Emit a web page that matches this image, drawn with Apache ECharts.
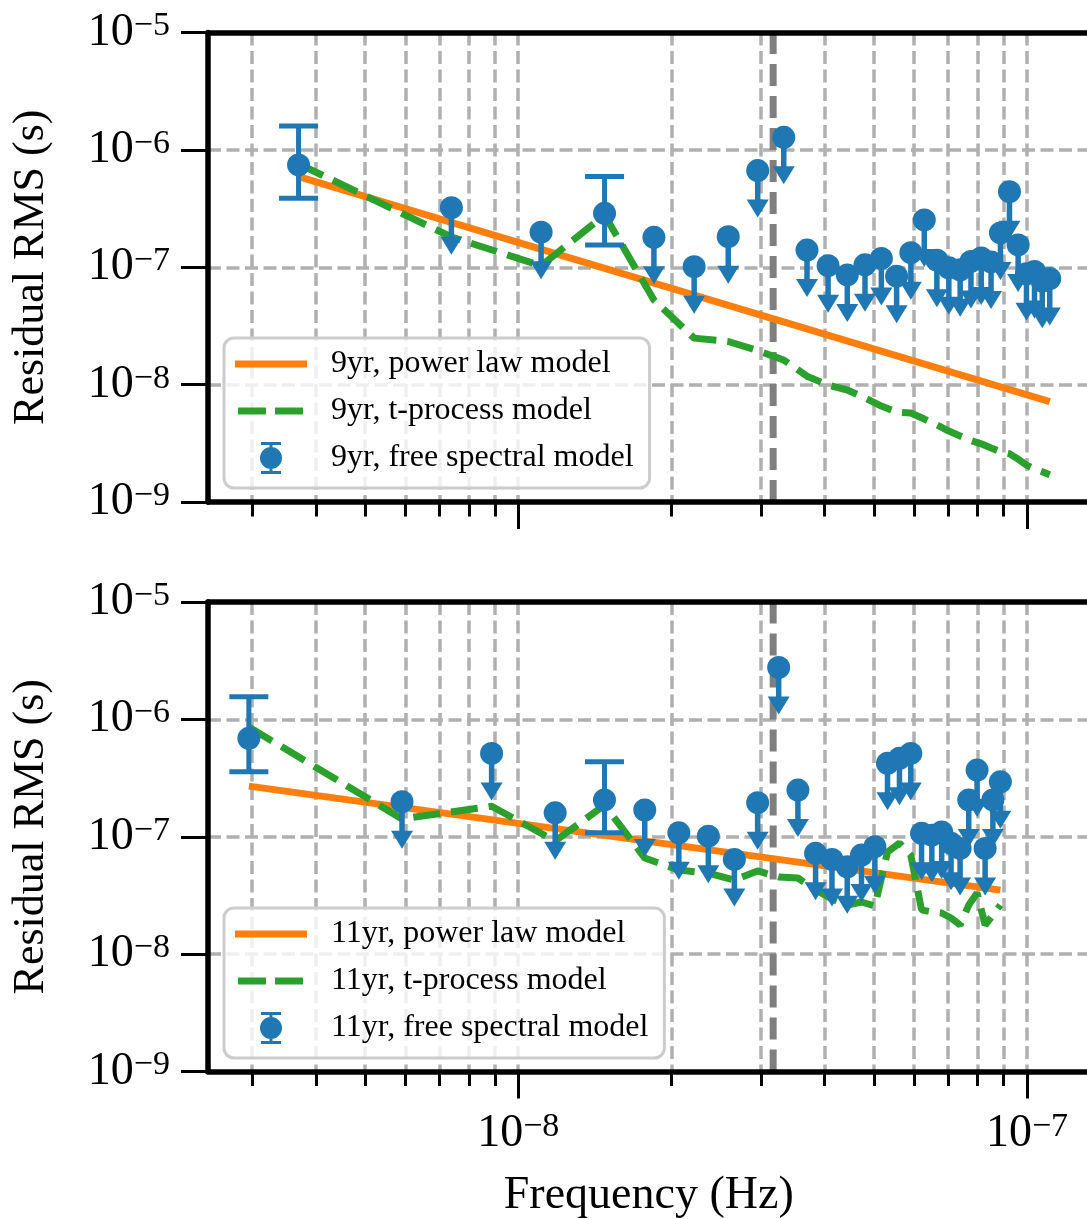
<!DOCTYPE html>
<html>
<head>
<meta charset="utf-8">
<title>Residual RMS</title>
<script src="https://cdn.jsdelivr.net/npm/echarts@6.0.0/dist/echarts.min.js"></script>
<style>
  html, body { margin: 0; padding: 0; background: #fff; }
  #main { width: 1087px; height: 1219px; }
</style>
</head>
<body>
<div id="main"></div>
<script>
// Fourier frequencies (Hz)
const freq9 = [3.70e-9, 7.39e-9, 1.109e-8, 1.478e-8, 1.848e-8, 2.217e-8, 2.587e-8, 2.956e-8, 3.326e-8, 3.695e-8,
  4.065e-8, 4.434e-8, 4.804e-8, 5.173e-8, 5.543e-8, 5.912e-8, 6.282e-8, 6.651e-8, 7.021e-8, 7.390e-8,
  7.760e-8, 8.129e-8, 8.499e-8, 8.868e-8, 9.238e-8, 9.607e-8, 9.977e-8, 1.0346e-7, 1.0716e-7, 1.1085e-7];
const freq11 = [2.955e-9, 5.91e-9, 8.865e-9, 1.182e-8, 1.4775e-8, 1.773e-8, 2.0685e-8, 2.364e-8, 2.6595e-8, 2.955e-8,
  3.2505e-8, 3.546e-8, 3.8415e-8, 4.137e-8, 4.4325e-8, 4.728e-8, 5.0235e-8, 5.319e-8, 5.6145e-8, 5.91e-8,
  6.2055e-8, 6.501e-8, 6.7965e-8, 7.092e-8, 7.3875e-8, 7.683e-8, 7.9785e-8, 8.274e-8, 8.5695e-8, 8.865e-8];

// free spectral model (s)
const free9 = [7.45e-7, 3.22e-7, 1.99e-7, 2.88e-7, 1.80e-7, 1.01e-7, 1.82e-7, 6.67e-7, 1.28e-6, 1.40e-7,
  1.03e-7, 8.6e-8, 1.05e-7, 1.19e-7, 8.4e-8, 1.33e-7, 2.53e-7, 1.15e-7, 9.9e-8, 9.5e-8,
  1.12e-7, 1.2e-7, 1.11e-7, 1.96e-7, 4.4e-7, 1.55e-7, 8.8e-8, 9.2e-8, 7.6e-8, 8.0e-8];
const free11 = [6.89e-7, 1.99e-7, 5.13e-7, 1.60e-7, 2.06e-7, 1.69e-7, 1.08e-7, 1.01e-7, 6.41e-8, 1.95e-7,
  2.77e-6, 2.50e-7, 7.23e-8, 6.41e-8, 5.55e-8, 6.98e-8, 8.22e-8, 4.22e-7, 4.66e-7, 5.13e-7,
  1.07e-7, 1.03e-7, 1.10e-7, 8.79e-8, 7.96e-8, 2.06e-7, 3.70e-7, 7.96e-8, 2.06e-7, 2.94e-7];

// detections with two-sided error bars: [point index, low, high]; the rest are upper limits
const bars9 = [[0, 3.87e-7, 1.60e-6], [3, 1.55e-7, 5.92e-7]];
const bars11 = [[0, 3.58e-7, 1.56e-6], [4, 1.08e-7, 4.35e-7]];

// t-process model (s)
const tproc9 = [7.6e-7, 1.81e-7, 1.03e-7, 2.79e-7, 5.26e-8, 2.49e-8, 2.33e-8, 1.95e-8, 1.62e-8, 1.18e-8,
  9.9e-9, 9.0e-9, 7.7e-9, 6.57e-9, 5.84e-9, 5.73e-9, 5.09e-9, 4.53e-9, 4.02e-9, 3.65e-9,
  3.34e-9, 3.13e-9, 2.88e-9, 2.69e-9, 2.58e-9, 2.32e-9, 2.06e-9, 1.91e-9, 1.81e-9, 1.71e-9];
const tproc11 = [8.6e-7, 1.42e-7, 1.82e-7, 9.2e-8, 1.86e-7, 6.59e-8, 5.20e-8, 4.91e-8, 4.28e-8, 5.11e-8,
  4.54e-8, 4.45e-8, 3.52e-8, 2.95e-8, 2.62e-8, 2.78e-8, 2.57e-8, 7.41e-8, 8.83e-8, 6.98e-8,
  2.38e-8, 2.29e-8, 2.24e-8, 2.03e-8, 1.77e-8, 2.62e-8, 3.31e-8, 1.77e-8, 2.15e-8, 2.62e-8];

// power law model, ends of the straight line
const power9 = [[3.70e-9, 5.92e-7], [1.1085e-7, 7.15e-9]];
const power11 = [[2.955e-9, 2.70e-7], [8.865e-8, 3.51e-8]];

const yearFreq = 3.17e-8; // 1/yr
const xMinorTicks = [3e-9, 4e-9, 5e-9, 6e-9, 7e-9, 8e-9, 9e-9, 2e-8, 3e-8, 4e-8, 5e-8, 6e-8, 7e-8, 8e-8, 9e-8];
const xMajorTicks = [1e-8, 1e-7];
const yTicks = [1e-9, 1e-8, 1e-7, 1e-6, 1e-5];

const FONT = "'Liberation Serif', 'DejaVu Serif', serif";
const BLUE = '#1f77b4', ORANGE = '#ff7f0e', GREEN = '#2ca02c';

const ICON_SOLID = 'path://M0,0H72V7H0Z';
const ICON_DASH = 'path://M0,3h.01v.01h-.01Z M3,0H31V7H3Z M40,0H68V7H40Z M71.99,3h.01v.01h-.01Z';
const ICON_ERR = 'path://M2,0H22V3H2Z M10.5,3H13.5V5H10.5Z M1,16A11,11 0 1,1 23,16A11,11 0 1,1 1,16Z M10.5,27H13.5V29H10.5Z M2,29H22V32H2Z';

function expLabel(v) {
  const e = Math.round(Math.log10(v));
  return '{b|10}{s|' + (e < 0 ? '\u2212' + (-e) : e) + '}';
}
const labelRich = {
  b: { fontFamily: FONT, fontSize: 46, lineHeight: 46, padding: [8, 0, 8, 0], color: '#000' },
  s: { fontFamily: FONT, fontSize: 34, lineHeight: 34, verticalAlign: 'top', color: '#000' }
};
const gridLine = { color: '#b0b0b0', width: 3.5, type: [13, 5.5] };
const spine = { color: '#000', width: 5.5 };
const tickStyle = { color: '#000', width: 3 };

function upperLimit(params, api) {
  const p = api.coord([api.value(0), api.value(1)]);
  return {
    type: 'group',
    children: [
      { type: 'line', shape: { x1: p[0], y1: p[1], x2: p[0], y2: p[1] + 31 }, style: { stroke: BLUE, lineWidth: 5.5 } },
      { type: 'polygon', shape: { points: [[p[0] - 11, p[1] + 29], [p[0] + 11, p[1] + 29], [p[0], p[1] + 47]] }, style: { fill: BLUE } }
    ]
  };
}

function errorBar(params, api) {
  const lo = api.coord([api.value(0), api.value(1)]);
  const hi = api.coord([api.value(0), api.value(2)]);
  const cap = 19.5;
  const st = { stroke: BLUE, lineWidth: 5 };
  return {
    type: 'group',
    children: [
      { type: 'line', shape: { x1: lo[0], y1: lo[1], x2: hi[0], y2: hi[1] }, style: st },
      { type: 'line', shape: { x1: lo[0] - cap, y1: lo[1], x2: lo[0] + cap, y2: lo[1] }, style: st },
      { type: 'line', shape: { x1: hi[0] - cap, y1: hi[1], x2: hi[0] + cap, y2: hi[1] }, style: st }
    ]
  };
}

const panels = [
  { label: '9yr', freq: freq9, free: free9, bars: bars9, tproc: tproc9, power: power9, top: 32.5, legendTop: 338 },
  { label: '11yr', freq: freq11, free: free11, bars: bars11, tproc: tproc11, power: power11, top: 602, legendTop: 908 }
];

const option = {
  backgroundColor: '#fff',
  animation: false,
  grid: [], xAxis: [], yAxis: [], legend: [], series: []
};

panels.forEach((pn, p) => {
  option.grid.push({ left: 208, top: pn.top, width: 881.5, height: 469.5, containLabel: false, outerBoundsMode: 'none' });

  const xRange = { type: 'log', min: 2.456e-9, max: 1.327e-7, gridIndex: p };
  const last = p === panels.length - 1;
  option.xAxis.push(
    {
      ...xRange, position: 'bottom', z: 0,
      axisLine: { show: false },
      axisTick: { show: true, customValues: xMinorTicks.concat(xMajorTicks), length: 14.5, lineStyle: tickStyle },
      axisLabel: { show: false },
      splitLine: { show: true, lineStyle: gridLine }
    },
    {
      ...xRange, position: 'bottom', z: 3,
      axisLine: { show: true, onZero: false, lineStyle: spine },
      axisTick: { show: true, customValues: xMajorTicks, length: 27, lineStyle: tickStyle },
      axisLabel: { show: last, customValues: xMajorTicks, formatter: expLabel, margin: 39, rich: labelRich },
      splitLine: { show: false },
      name: last ? 'Frequency (Hz)' : '',
      nameLocation: 'middle', nameGap: 101,
      nameTextStyle: { fontFamily: FONT, fontSize: 46, color: '#000' }
    },
    {
      ...xRange, position: 'top', z: 3,
      axisLine: { show: true, onZero: false, lineStyle: spine },
      axisTick: { show: false }, axisLabel: { show: false }, splitLine: { show: false }
    }
  );

  const yRange = { type: 'log', min: 1e-9, max: 1e-5, gridIndex: p };
  option.yAxis.push(
    {
      ...yRange, position: 'left', z: 0,
      axisLine: { show: false },
      axisTick: { show: false, customValues: yTicks },
      axisLabel: { show: false },
      splitLine: { show: true, lineStyle: gridLine }
    },
    {
      ...yRange, position: 'left', z: 3,
      axisLine: { show: true, onZero: false, lineStyle: spine },
      axisTick: { show: true, customValues: yTicks, length: 27, lineStyle: tickStyle },
      axisLabel: { customValues: yTicks, formatter: expLabel, margin: 38, rich: labelRich },
      splitLine: { show: false },
      name: 'Residual RMS (s)', nameLocation: 'middle', nameGap: 155,
      nameTextStyle: { fontFamily: FONT, fontSize: 44, color: '#000' }
    }
  );

  const xi = p * 3, yi = p * 2;
  const isBar = i => pn.bars.some(b => b[0] === i);
  const names = [pn.label + ', power law model', pn.label + ', t-process model', pn.label + ', free spectral model'];

  option.series.push(
    {
      // 1/yr marker
      name: pn.label + ' 1/yr', type: 'line', xAxisIndex: xi, yAxisIndex: yi, z: 1,
      data: [[yearFreq, yTicks[0]], [yearFreq, yTicks[yTicks.length - 1]]], symbol: 'none', silent: true,
      lineStyle: { color: '#7f7f7f', width: 7, type: [22, 10] }
    },
    {
      name: names[0], type: 'line', xAxisIndex: xi, yAxisIndex: yi, z: 2,
      data: pn.power, symbol: 'none',
      lineStyle: { color: ORANGE, width: 7 }, itemStyle: { color: ORANGE }
    },
    {
      name: names[1], type: 'line', xAxisIndex: xi, yAxisIndex: yi, z: 2,
      data: pn.freq.map((f, i) => [f, pn.tproc[i]]), symbol: 'none',
      lineStyle: { color: GREEN, width: 7, type: [27, 11] }, itemStyle: { color: GREEN }
    },
    {
      name: names[2], type: 'scatter', xAxisIndex: xi, yAxisIndex: yi, z: 4,
      data: pn.freq.map((f, i) => [f, pn.free[i]]),
      symbol: 'circle', symbolSize: 23, itemStyle: { color: BLUE, opacity: 1 }
    },
    {
      name: pn.label + ' error bars', type: 'custom', xAxisIndex: xi, yAxisIndex: yi, z: 3,
      renderItem: errorBar,
      data: pn.bars.map(b => [pn.freq[b[0]], b[1], b[2]])
    },
    {
      name: pn.label + ' upper limits', type: 'custom', xAxisIndex: xi, yAxisIndex: yi, z: 3,
      renderItem: upperLimit,
      data: pn.freq.map((f, i) => [f, pn.free[i]]).filter((d, i) => !isBar(i))
    }
  );

  option.legend.push({
    orient: 'vertical', left: 224, top: pn.legendTop,
    padding: [10, 16, 14, 11], itemWidth: 72, itemHeight: 32, itemGap: 15,
    backgroundColor: 'rgba(255,255,255,0.8)', borderColor: '#cccccc', borderWidth: 3, borderRadius: 10,
    selectedMode: false,
    textStyle: { fontFamily: FONT, fontSize: 32, lineHeight: 32, color: '#000', padding: [0, 0, 0, 19] },
    data: [
      { name: names[0], icon: ICON_SOLID, itemStyle: { color: ORANGE, borderWidth: 0 } },
      { name: names[1], icon: ICON_DASH, itemStyle: { color: GREEN, borderWidth: 0 } },
      { name: names[2], icon: ICON_ERR, itemStyle: { color: BLUE, borderWidth: 0 } }
    ]
  });
});

const chart = echarts.init(document.getElementById('main'));
chart.setOption(option);
window.addEventListener('resize', () => chart.resize());
</script>
</body>
</html>
